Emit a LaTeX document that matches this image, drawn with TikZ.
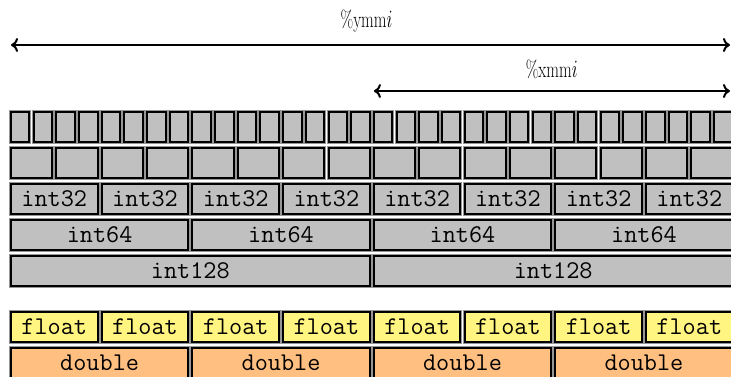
\documentclass[tikz,border=0pt]{standalone}
\usepackage{graphicx}
\usetikzlibrary{arrows.meta}
\definecolor{cellgray}{RGB}{192,192,192}
\definecolor{haloGray}{RGB}{150,150,150}
\definecolor{floatfill}{RGB}{255,245,128}
\definecolor{doublefill}{RGB}{255,191,128}
\tikzset{
  cell/.style={rectangle, anchor=north west, inner sep=0pt, outer sep=0pt,
    minimum height=29.5pt, fill=cellgray, draw=black, line width=2pt,
    preaction={draw=haloGray, line width=4pt},
    font=\fontsize{25.5}{26}\selectfont\ttfamily},
  fcell/.style={cell, fill=floatfill},
  dcell/.style={cell, fill=doublefill},
  regarrow/.style={line width=2pt,
    {Computer Modern Rightarrow[length=7pt,width=14pt]}-{Computer Modern Rightarrow[length=7pt,width=14pt]}},
  reglabel/.style={anchor=base, inner sep=0pt, font=\fontsize{23.5}{24}\selectfont}
}
\begin{document}
\begin{tikzpicture}[x=1pt, y=-1pt]
  \useasboundingbox (0,0) rectangle (731,377);
  \clip (0,0) rectangle (731,377);
  % byte pitch, gap between lanes and left edge of the lanes
  \def\pitch{22.68}
  \def\gap{4.2}
  \def\xo{11}
  % register width arrows
  \coordinate (ymmL) at (\xo,45);
  \coordinate (ymmR) at (730,45);
  \coordinate (xmmL) at ({\xo+16*\pitch},91);
  \coordinate (xmmR) at (730,91);
  \draw[regarrow] (ymmL) -- (ymmR);
  \draw[regarrow] (xmmL) -- (xmmR);
  \node[reglabel] (ymmlabel) at (366.5,28) {\scalebox{0.7}[1]{\%ymm$i$}};
  \node[reglabel] (xmmlabel) at (551.7,78) {\scalebox{0.7}[1]{\%xmm$i$}};
  % bytes
  \foreach \i in {0,...,31}
    \node[cell, minimum width={\pitch-\gap}] (b\i) at ({\xo+\i*\pitch},112.5) {};
  % 16-bit words
  \foreach \i in {0,...,15}
    \node[cell, minimum width={2*\pitch-\gap}] (w\i) at ({\xo+2*\i*\pitch},148) {};
  % 32-bit integers
  \foreach \i in {0,...,7}
    \node[cell, minimum width={4*\pitch-\gap}] (d\i) at ({\xo+4*\i*\pitch},184) {int32};
  % 64-bit integers
  \foreach \i in {0,...,3}
    \node[cell, minimum width={8*\pitch-\gap}] (q\i) at ({\xo+8*\i*\pitch},220) {int64};
  % 128-bit integers
  \foreach \i in {0,...,1}
    \node[cell, minimum width={16*\pitch-\gap}] (o\i) at ({\xo+16*\i*\pitch},256) {int128};
  % single precision floats
  \foreach \i in {0,...,7}
    \node[fcell, minimum width={4*\pitch-\gap}] (f\i) at ({\xo+4*\i*\pitch},312) {float};
  % double precision floats
  \foreach \i in {0,...,3}
    \node[dcell, minimum width={8*\pitch-\gap}, minimum height=30pt] (g\i) at ({\xo+8*\i*\pitch},347.8) {double};
\end{tikzpicture}
\end{document}
